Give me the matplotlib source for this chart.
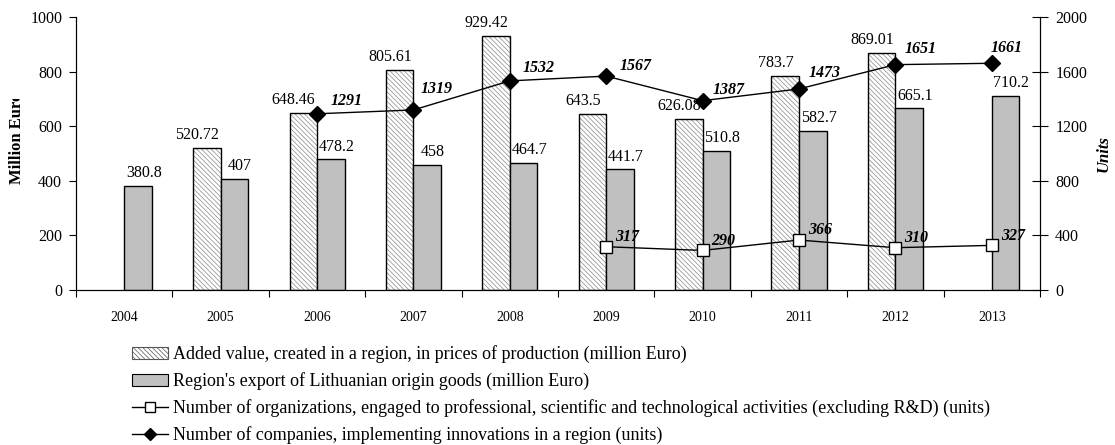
import numpy as np
import matplotlib
matplotlib.use("Agg")
import matplotlib.pyplot as plt
from matplotlib.patches import Patch
from matplotlib.lines import Line2D
from matplotlib.transforms import Bbox

plt.rcParams['font.family'] = ['Liberation Serif', 'DejaVu Serif']
plt.rcParams['hatch.linewidth'] = 0.5

years = ['2004', '2005', '2006', '2007', '2008', '2009', '2010', '2011', '2012', '2013']
added_value = [np.nan, 520.72, 648.46, 805.61, 929.42, 643.5, 626.08, 783.7, 869.01, np.nan]
export = [380.8, 407, 478.2, 458, 464.7, 441.7, 510.8, 582.7, 665.1, 710.2]
org_years = ['2009', '2010', '2011', '2012', '2013']
organizations = [317, 290, 366, 310, 327]
comp_years = ['2006', '2007', '2008', '2009', '2010', '2011', '2012', '2013']
companies = [1291, 1319, 1532, 1567, 1387, 1473, 1651, 1661]

labels = ["Added value, created in a region, in prices of production (million Euro)",
          "Region's export of Lithuanian origin goods (million Euro)",
          "Number of organizations, engaged to professional, scientific and technological activities (excluding R&D) (units)",
          "Number of companies, implementing innovations in a region (units)"]

# label nudges (points) for the value labels of the line series
comp_dx = [10, 5, 9.5, 9.5, 7, 7, 6.5, -1]
comp_dy = [9.5, 15, 9.5, 7, 8, 11.5, 11, 11]

fig = plt.figure(figsize=(11.15, 4.45), dpi=100)
ax = fig.add_axes([0.0682, 0.3483, 0.8645, 0.6135])
ax2 = ax.twinx()

x = np.arange(len(years))
w = 0.285
off = 0.143

# hatched bars: hatch in gray, outline in black
ax.bar(x - off, added_value, w, color='white', edgecolor='#888888', hatch='\\' * 7, linewidth=0, zorder=2)
ax.bar(x - off, added_value, w, color='none', edgecolor='black', linewidth=1.0, zorder=3)
ax.bar(x + off, export, w, color='#c0c0c0', edgecolor='black', linewidth=1.0, zorder=3)

for xi, v in zip(x, added_value):
    if not np.isnan(v):
        ax.text(xi - off - 0.1, v + 18, f"{v:g}", ha='center', va='bottom', fontsize=11.5)
for xi, v in zip(x, export):
    ax.text(xi + off + 0.06, v + 18, f"{v:g}", ha='center', va='bottom', fontsize=11.5)

ax.set_xlim(-0.5, len(years) - 0.5)
ax.set_ylim(0, 1000)
ax.set_yticks(np.arange(0, 1001, 200))
ax.set_xticks(np.arange(-0.5, len(years), 1))
ax.set_xticklabels([])
ax.set_xticks(x, minor=True)
ax.set_xticklabels(years, minor=True, fontsize=10)
ax.tick_params(axis='x', which='minor', length=0, pad=15)
ax.tick_params(axis='x', which='major', length=5, direction='out')
ax.tick_params(axis='y', labelsize=11.5, length=5, direction='out', pad=5)
ax.spines['top'].set_visible(False)

# y label drawn as figure text so its top end can be cut like in the original
ylab = fig.text(17 / 1115, 1 - 138 / 445, "Million Euro", rotation=90, ha='center', va='center',
                fontsize=12, fontweight='bold')
ylab.set_clip_box(Bbox.from_extents(0, 0, 1115, 445 - 99))
ylab.set_clip_on(True)

org_x = [years.index(y) for y in org_years]
comp_x = [years.index(y) for y in comp_years]
ax2.plot(org_x, organizations, color='black', lw=1, marker='s', ms=9,
         mfc='white', mec='black', mew=1, zorder=5)
ax2.plot(comp_x, companies, color='black', lw=1, marker='D', ms=8,
         mfc='black', mec='black', zorder=5)
for xi, v in zip(org_x, organizations):
    ax2.annotate(str(v), (xi, v), xytext=(6.5, 7), textcoords='offset points',
                 ha='left', va='center', fontsize=11.5, fontweight='bold', style='italic')
for xi, v, dx, dy in zip(comp_x, companies, comp_dx, comp_dy):
    ax2.annotate(str(v), (xi, v), xytext=(dx, dy), textcoords='offset points',
                 ha='left', va='center', fontsize=11.5, fontweight='bold', style='italic')

ax2.set_ylim(0, 2000)
ax2.set_yticks(np.arange(0, 2001, 400))
ax2.tick_params(axis='y', labelsize=11.5, length=12, direction='inout', pad=5)
ax2.spines['top'].set_visible(False)
ax2.set_ylabel("Units", fontsize=12, fontweight='bold', style='italic', rotation=90)
ax2.yaxis.set_label_coords(1.058, 0.5)
ax.patch.set_visible(False)
ax2.patch.set_visible(False)
ax.set_zorder(1)
ax2.set_zorder(2)

handles = [Patch(facecolor='white', edgecolor='#555555', hatch='\\' * 7, linewidth=0.8),
           Patch(facecolor='#c0c0c0', edgecolor='black', linewidth=0.8),
           Line2D([], [], color='black', lw=1, marker='s', ms=7, mfc='white', mec='black'),
           Line2D([], [], color='black', lw=1, marker='D', ms=6, mfc='black', mec='black')]
fig.legend(handles, labels, loc='upper left', bbox_to_anchor=(0.118, 0.224),
           frameon=False, fontsize=13, handlelength=2.0, handletextpad=0.28,
           labelspacing=0.5, borderpad=0, borderaxespad=0)

fig.savefig("out.png", dpi=100)
